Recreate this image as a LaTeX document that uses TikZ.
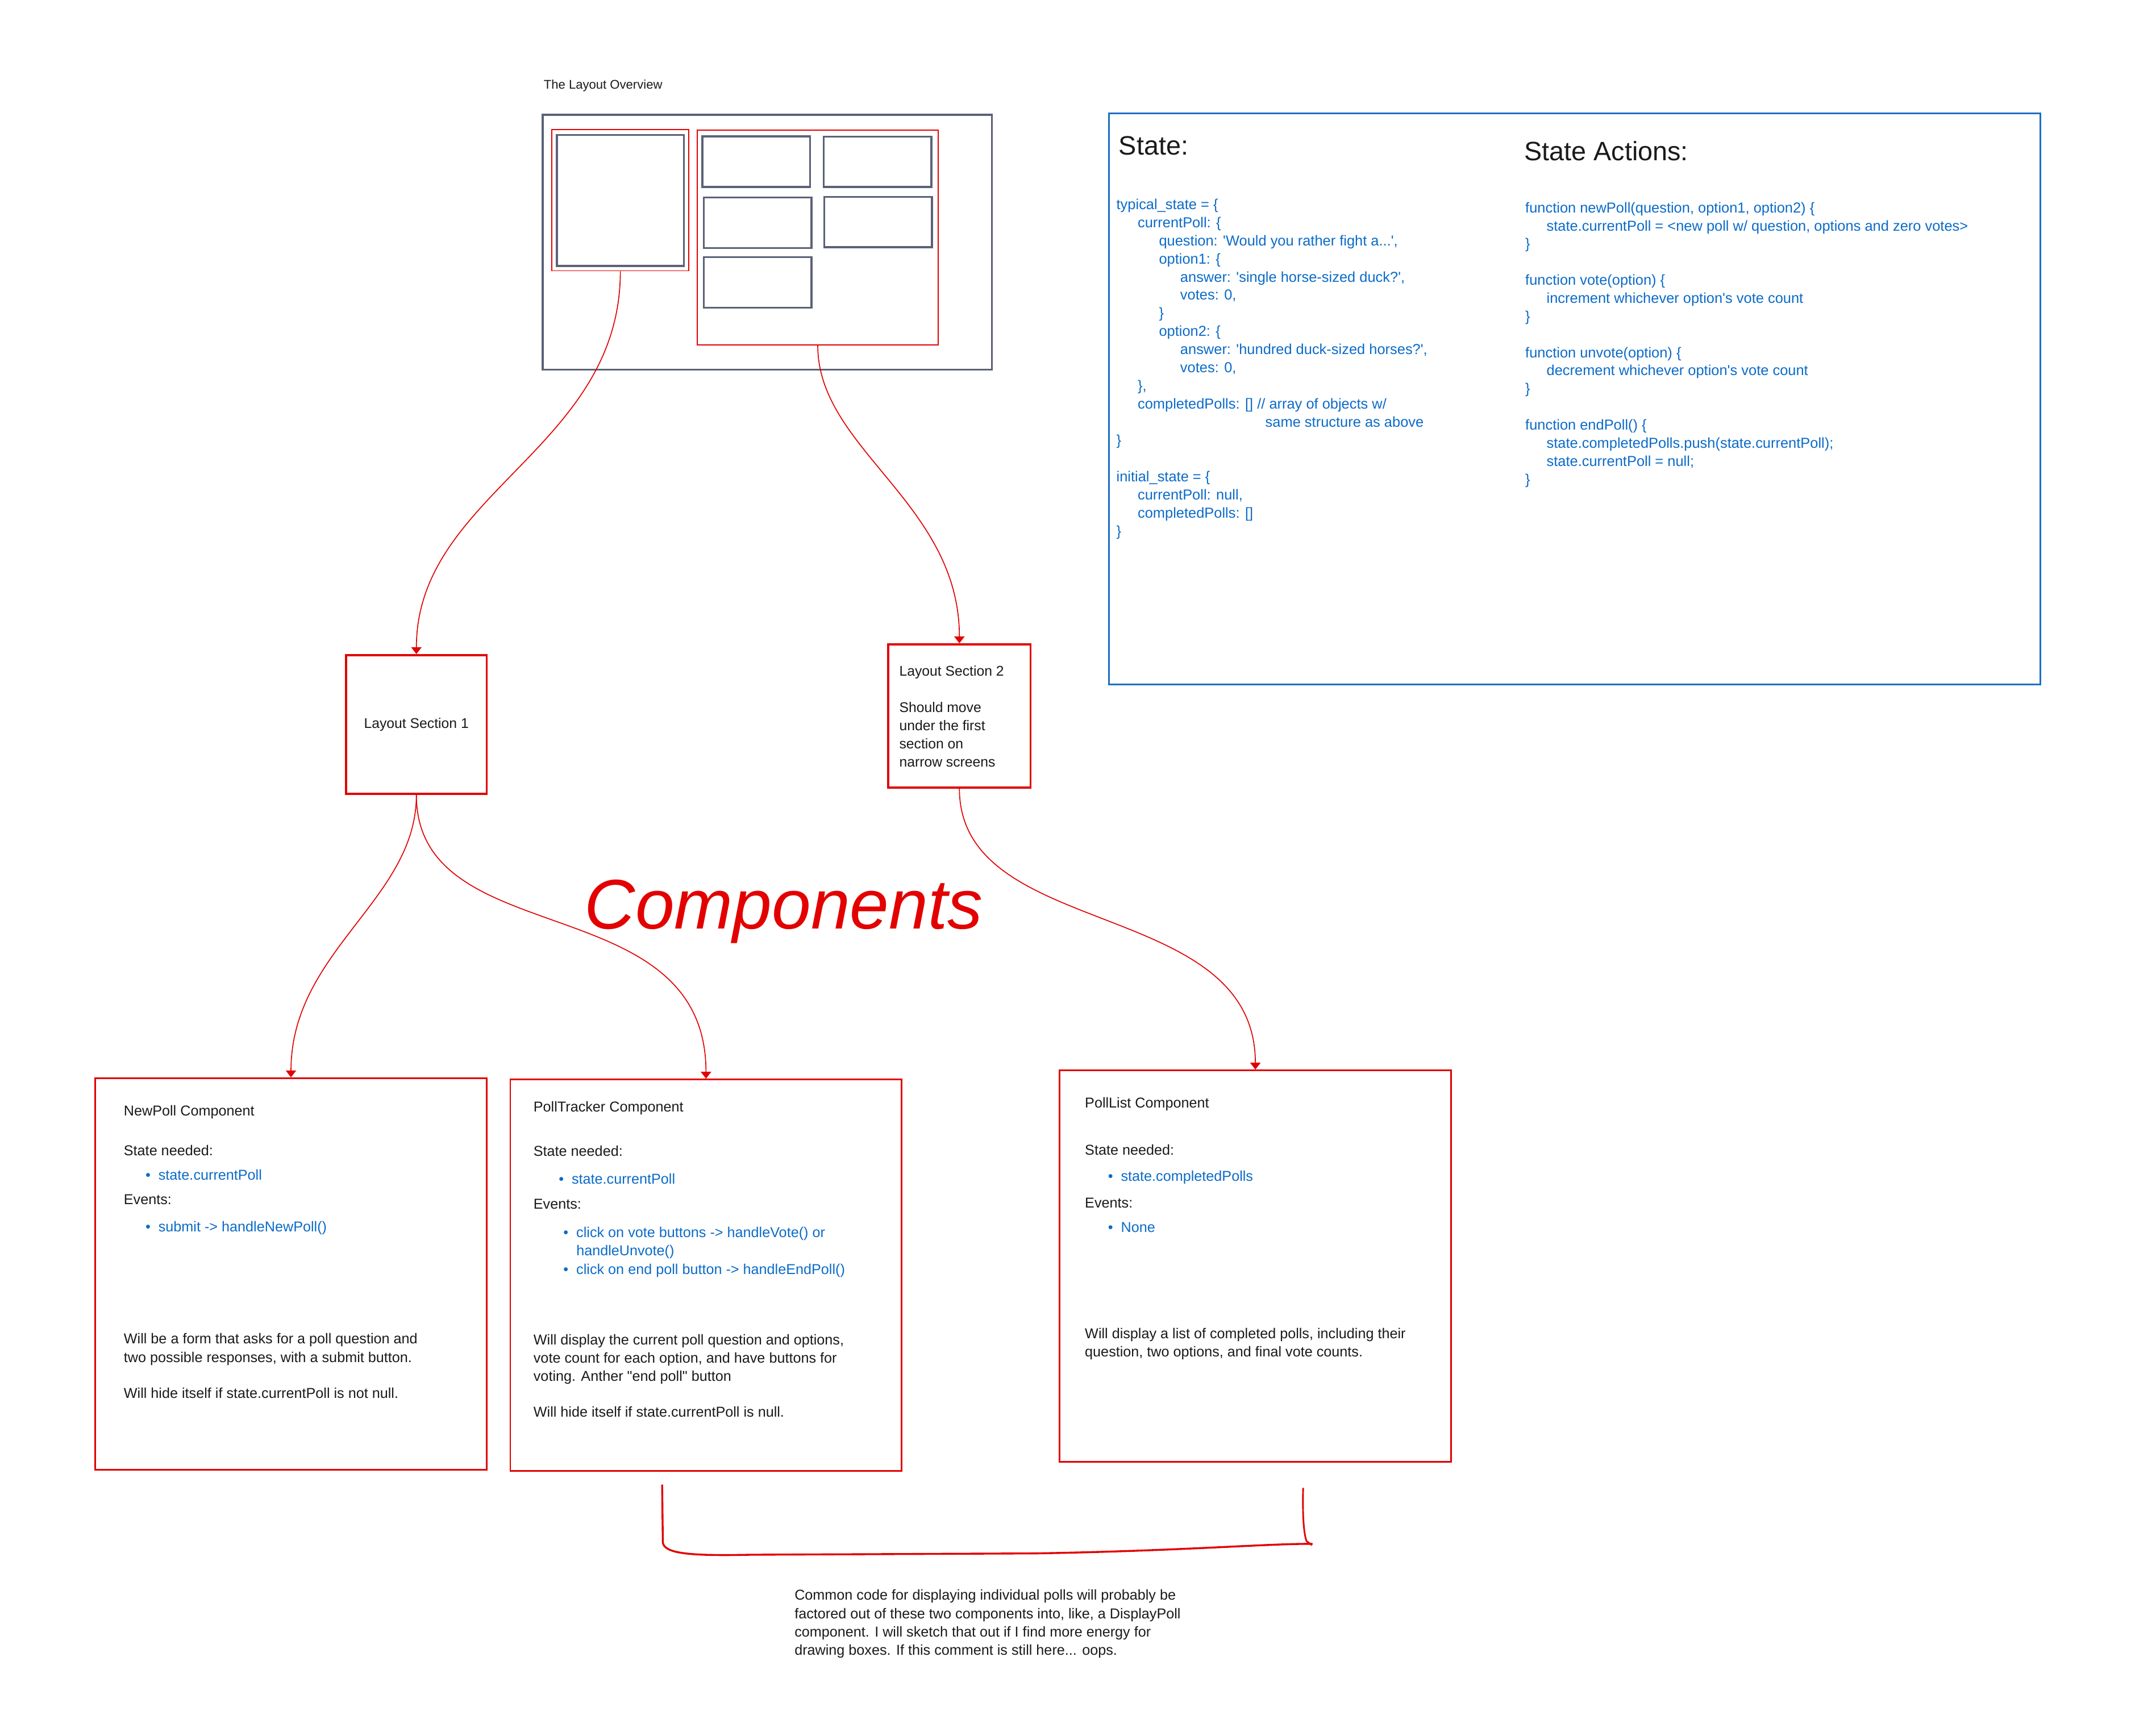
\documentclass[tikz,border=0pt]{standalone}
\usepackage{fontspec}
\setmainfont{Liberation Sans}
\usetikzlibrary{arrows.meta,positioning}
\definecolor{linered}{HTML}{E20000}
\definecolor{codeblue}{HTML}{0B6BC9}
\definecolor{frameblue}{HTML}{1C6FC6}
\definecolor{slate}{HTML}{5B6276}
\definecolor{inkblack}{HTML}{1A1A1A}
\newlength{\indstep}\setlength{\indstep}{15.6pt}
\newcommand{\ind}[1]{\hspace*{#1\indstep}\ignorespaces}
\newcommand{\sq}{\textquotesingle}
\newcommand{\bulletline}[2]{\hspace*{#1}\textcolor{codeblue}{\makebox[9.5pt][l]{\textbullet}#2}}
\newcommand{\textlines}[1]{\begin{tabular}[t]{@{}l@{}}#1\end{tabular}}

\begin{document}
\begin{tikzpicture}[x=1pt, y=-1pt, >={Triangle[width=7.5pt,length=5pt]},
  every node/.style={inner sep=0pt, text=inkblack},
  smalltext/.style={font=\fontsize{10.5}{13.4}\selectfont, anchor=base west},
  codetext/.style={smalltext, text=codeblue, font=\fontsize{10.6}{13.3}\selectfont},
  heading/.style={font=\fontsize{19.5}{22}\selectfont, anchor=base west},
  wirebox/.style={draw=slate, line width=1.5pt},
  sectframe/.style={draw=linered, line width=0.7pt, rectangle},
  sectbox/.style={draw=linered, line width=1.6pt, rectangle},
  compbox/.style={draw=linered, line width=1.2pt, rectangle, minimum width=287pt, minimum height=287pt},
  link/.style={->, draw=linered, line width=0.7pt}]
   \fill[white] (0,0) rectangle (1562.5,1272.9);
   \useasboundingbox (0,0) rectangle (1562.5,1272.9);
   % layout overview
   \node[anchor=base west, font=\fontsize{9.2}{11}\selectfont] (overview title) at (398.5,65.3) {The Layout Overview};
   \draw[wirebox] (398,84.2) rectangle (727.2,271.1);
   \draw[wirebox] (408.4,98.9) rectangle (501.5,195.1);
   \foreach \x/\y in {515/100, 604/100.2, 516/144.8, 604.3/144.3, 516/188.6}
      \draw[wirebox] (\x,\y) rectangle ++(79,37);
   \node[sectframe, minimum width=100.5pt, minimum height=103.5pt] (sec1) at (454.85,146.85) {};
   \node[sectframe, minimum width=176.8pt, minimum height=157.6pt] (sec2) at (599.6,174.2) {};
   % layout sections
   \node[sectbox, minimum width=103.2pt, minimum height=101.7pt, font=\fontsize{10.3}{13.3}\selectfont] (ls1) at (305.3,531.25) {Layout Section 1};
   \node[sectbox, minimum width=104.3pt, minimum height=104.9pt] (ls2) at (703.45,524.95) {};
   \node[smalltext, font=\fontsize{10.3}{13.3}\selectfont] (ls2 text) at (659.2,495.6) {\textlines{Layout Section 2\\[13.5pt]Should move\\under the first\\section on\\narrow screens}};
   % components
   \node[anchor=base west, font=\fontsize{51.5}{60}\selectfont\itshape, text=linered] (components) at (428.5,681) {Components};
   \node[compbox] (newpoll) at (213.35,934.05) {};
   \node[compbox] (tracker) at (517.65,935) {};
   \node[compbox] (polllist) at (920.45,928.35) {};
   \node[smalltext] (newpoll text) at (90.6,818.2) {\textlines{NewPoll Component\\[15.6pt]
      State needed:\\[4.4pt]
      \bulletline{15.9pt}{state.currentPoll}\\[4.8pt]
      Events:\\[6.6pt]
      \bulletline{15.9pt}{submit -> handleNewPoll()}\\[68.8pt]
      Will be a form that asks for a poll question and\\
      two possible responses, with a submit button.\\[13.2pt]
      Will hide itself if state.currentPoll is not null.}};
   \node[smalltext] (tracker text) at (391,815.2) {\textlines{PollTracker Component\\[19.2pt]
      State needed:\\[6.8pt]
      \bulletline{18.5pt}{state.currentPoll}\\[5pt]
      Events:\\[7.6pt]
      \bulletline{21.9pt}{click on vote buttons -> handleVote() or}\\
      \hspace*{31.4pt}\textcolor{codeblue}{handleUnvote()}\\
      \bulletline{21.9pt}{click on end poll button -> handleEndPoll()}\\[38.4pt]
      Will display the current poll question and options,\\
      vote count for each option, and have buttons for\\
      voting. Anther \textquotedbl end poll\textquotedbl{} button\\[12.6pt]
      Will hide itself if state.currentPoll is null.}};
   \node[smalltext] (polllist text) at (795.3,812.2) {\textlines{PollList Component\\[21.2pt]
      State needed:\\[5.8pt]
      \bulletline{16.9pt}{state.completedPolls}\\[6.2pt]
      Events:\\[4.4pt]
      \bulletline{16.9pt}{None}\\[64.6pt]
      Will display a list of completed polls, including their\\
      question, two options, and final vote counts.}};
   % state panel
   \node[draw=frameblue, line width=1.3pt, minimum width=683pt, minimum height=419pt] (statepanel) at (1154.5,292.5) {};
   \node[heading] (state head) at (820.2,113.4) {State:};
   \node[heading] (actions head) at (1117.4,117.8) {State Actions:};
   \node[codetext] (typical state) at (818.4,153.5) {\textlines{typical\_state = \{\\
      \ind{1} currentPoll: \{\\
      \ind{2} question: \sq Would you rather fight a...\sq,\\
      \ind{2} option1: \{\\
      \ind{3} answer: \sq single horse-sized duck?\sq,\\
      \ind{3} votes: 0,\\
      \ind{2} \}\\
      \ind{2} option2: \{\\
      \ind{3} answer: \sq hundred duck-sized horses?\sq,\\
      \ind{3} votes: 0,\\
      \ind{1} \},\\
      \ind{1} completedPolls: [] // array of objects w/\\
      \hspace*{109.2pt}same structure as above\\
      \}\\[13.4pt]
      initial\_state = \{\\
      \ind{1} currentPoll: null,\\
      \ind{1} completedPolls: []\\
      \}}};
   \node[codetext] (state actions) at (1118.2,155.9) {\textlines{function newPoll(question, option1, option2) \{\\
      \ind{1} state.currentPoll = <new poll w/ question, options and zero votes>\\
      \}\\[13.2pt]
      function vote(option) \{\\
      \ind{1} increment whichever option\sq s vote count\\
      \}\\[13.2pt]
      function unvote(option) \{\\
      \ind{1} decrement whichever option\sq s vote count\\
      \}\\[13.2pt]
      function endPoll() \{\\
      \ind{1} state.completedPolls.push(state.currentPoll);\\
      \ind{1} state.currentPoll = null;\\
      \}}};
   % links
   \draw[link] (sec1.south) .. controls +(0,130) and +(0,-118) .. (ls1.north);
   \draw[link] (sec2.south) .. controls +(0,76) and +(0,-103) .. (ls2.north);
   \draw[link] (ls1.south) .. controls +(0,77) and +(0,-93) .. (newpoll.north);
   \draw[link] (ls1.south) .. controls +(0,117) and +(0,-142) .. (tracker.north);
   \draw[link] (ls2.south) .. controls +(0,112) and +(0,-127) .. (polllist.north);
   % brace under the two components
   \draw[linered, line width=1.4pt, line cap=round] (485.5,1089) -- (486,1131) .. controls (487,1139) and (505,1141) .. (550,1140) -- (760,1139) .. controls (870,1137) and (925,1132) .. (962,1132);
   \draw[linered, line width=1.2pt] (955.5,1091) .. controls (955,1105) and (955.5,1124) .. (958,1130) -- (962,1133);
   \node[smalltext] (shared note) at (582.4,1173.3) {\textlines{Common code for displaying individual polls will probably be\\
      factored out of these two components into, like, a DisplayPoll\\
      component. I will sketch that out if I find more energy for\\
      drawing boxes. If this comment is still here... oops.}};
\end{tikzpicture}
\end{document}
